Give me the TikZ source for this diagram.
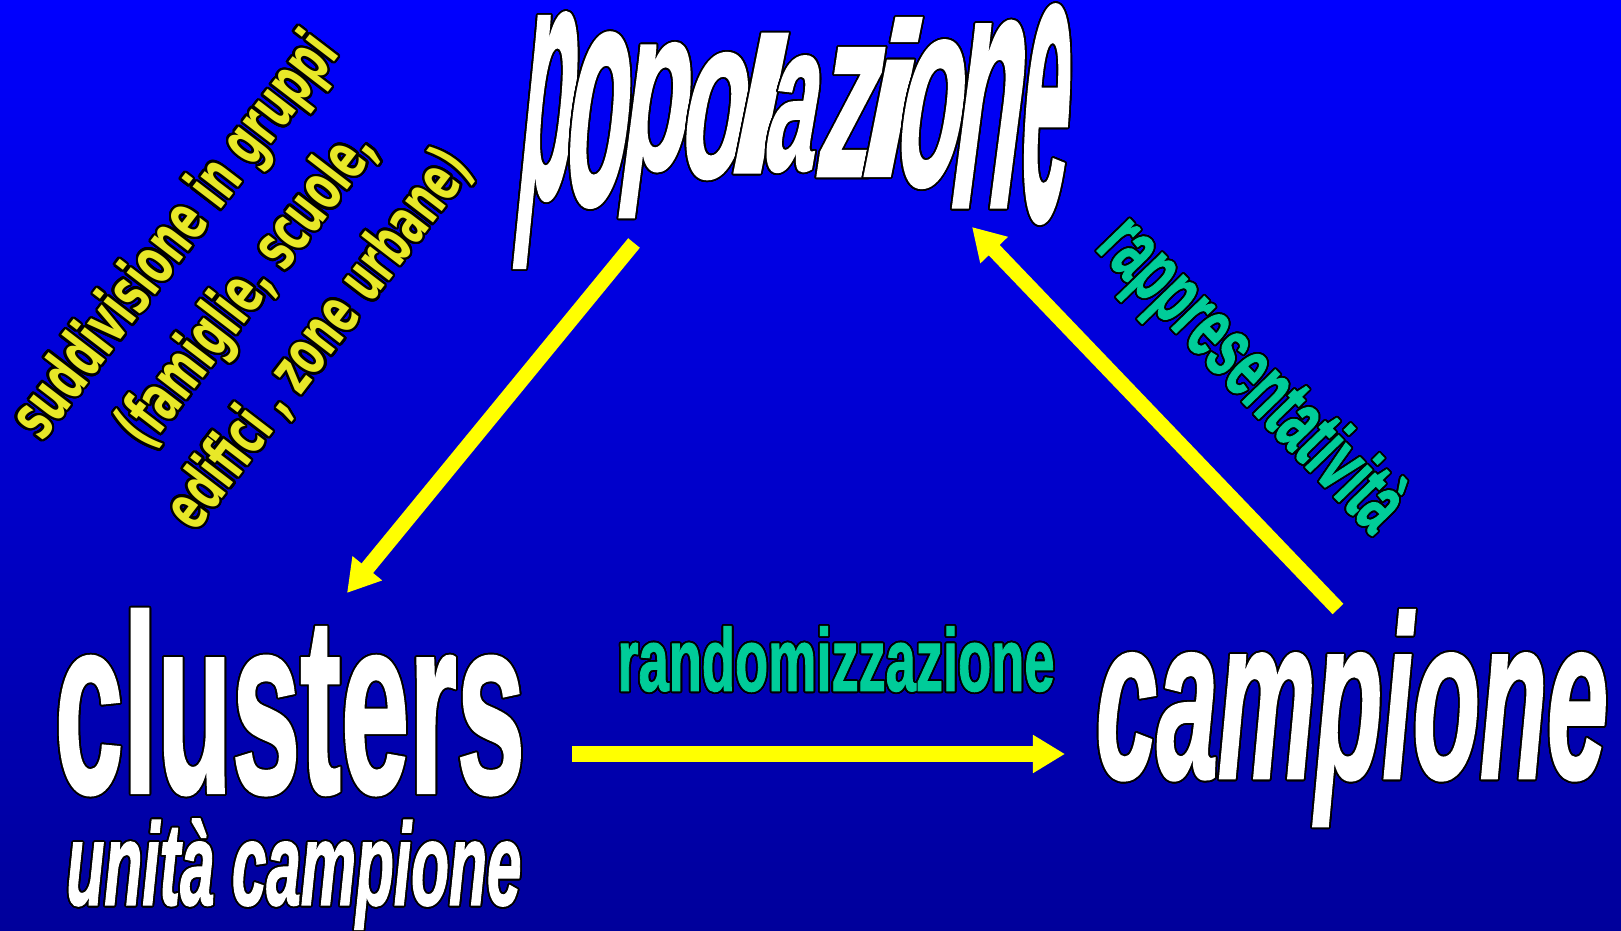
\documentclass[tikz,border=0pt]{standalone}
\usepackage{fontspec}
\usepackage{graphicx}
\usepackage[copies]{contour}
\usetikzlibrary{arrows.meta}

\newfontfamily\heavyfont{Liberation Sans Bold}[FakeBold = 1.5]
\newfontfamily\heavyitalic{Liberation Sans Bold Italic}[FakeBold = 1.5]
\newfontfamily\notefont{DejaVu Sans Bold}

\definecolor{bgtop}{RGB}{0,0,255}
\definecolor{bgbottom}{RGB}{0,0,155}
\definecolor{arrowyellow}{RGB}{255,255,0}
\definecolor{notegreen}{RGB}{0,204,153}
\definecolor{noteyellow}{RGB}{232,232,40}

\newdimen\pix
\pix=0.01cm
\contourlength{0.5pt}
\contournumber{32}
%% word art: scale first, then outline
\newcommand{\artword}[3]{\contour{black}{\resizebox*{#1\pix}{#2\pix}{#3}}}

\tikzset{
    word/.style = {inner sep = 0pt, outer sep = 0pt, text = white, font = \heavyfont},
    italic word/.style = {word, font = \heavyitalic},
    green word/.style = {word, text = notegreen},
    yellow note/.style = {inner sep = 0pt, text = noteyellow,
        font = \notefont\contourlength{0.65pt}, rotate = 52.5},
    yellow arrow/.style = {draw = arrowyellow, line width = 0.15cm,
        -{Triangle[length = 0.32cm, width = 0.36cm]}},
}

\begin{document}
\begin{tikzpicture}[x = 0.01cm, y = -0.01cm]
    \useasboundingbox (0, 0) rectangle (1621, 931);
    \shade[top color = bgtop, bottom color = bgbottom] (0, 0) rectangle (1621, 931);

    %% popolazione, one letter at a time
    \foreach \c/\x/\y/\w/\h/\s [count = \k] in {
        p/547/141/54/253/0.10, o/600/121/62/173/0.11, p/656/131/66/173/0.13,
        o/717/117/64/125/0.15, l/761/104/50/138/0.20, a/795/115/50/115/0.17,
        z/852/113/60/127/0.15, i/893/98/50/157/0.20, o/933/115/64/146/0.15,
        n/991/115/68/184/0.13, e/1047/115/48/216/0.07}
        \node[word, xslant = \s] (pop\k) at (\x, \y) {\artword{\w}{\h}{\c}};

    \node[word] (clusters) at (290, 703) {\artword{470}{185}{clusters}};
    \node[italic word] (units) at (294, 875) {\artword{455}{110}{unità campione}};
    \node[italic word] (campione) at (1352, 719) {\artword{512}{215}{campione}};

    \node[green word] (random) at (836, 660) {\artword{437}{65}{randomizzazione}};
    \node[green word, rotate = -46] (repr) at (1249, 377) {\artword{400}{81}{rappresentatività}};

    \node[yellow note] (note1) at (178, 238) {\artword{490}{64}{suddivisione in gruppi}};
    \node[yellow note] (note2) at (250, 290) {\artword{380}{64}{(famiglie, scuole,}};
    \node[yellow note] (note3) at (320, 340) {\artword{458}{58}{edifici , zone urbane)}};

    %% arrows
    \coordinate (popL) at (634, 243);
    \coordinate (clusTip) at (347, 593);
    \coordinate (clusR) at (572, 754);
    \coordinate (campTip) at (1065, 754);
    \coordinate (campT) at (1338, 609);
    \coordinate (popTip) at (972, 227);

    \draw[yellow arrow] (popL) -- (clusTip);
    \draw[yellow arrow] (clusR) -- (campTip);
    \draw[yellow arrow] (campT) -- (popTip);
\end{tikzpicture}
\end{document}
